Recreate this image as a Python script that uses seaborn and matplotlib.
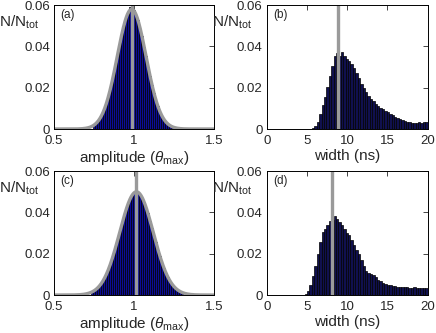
import numpy as np
import pandas as pd
import seaborn as sns
import matplotlib
matplotlib.use("Agg")
import matplotlib.pyplot as plt

# amplitude histograms (bin width 0.0125, bin centres)
amp_bin = 0.0125
amp_a_centres = np.arange(41) * amp_bin + 0.75
amp_a_heights = [0.0019, 0.0027, 0.0038, 0.0052, 0.0071, 0.0090, 0.0121, 0.0149,
                 0.0190, 0.0228, 0.0277, 0.0320, 0.0374, 0.0416, 0.0467, 0.0502,
                 0.0541, 0.0559, 0.0590, 0.0578, 0.0575, 0.0550, 0.0528, 0.0486,
                 0.0449, 0.0398, 0.0354, 0.0300, 0.0258, 0.0211, 0.0175, 0.0136,
                 0.0110, 0.0081, 0.0064, 0.0045, 0.0034, 0.0023, 0.0017, 0.0011,
                 0.0008]
amp_c_centres = np.arange(46) * amp_bin + 0.7375
amp_c_heights = [0.0015, 0.0021, 0.0029, 0.0036, 0.0049, 0.0060, 0.0079, 0.0096,
                 0.0121, 0.0144, 0.0175, 0.0205, 0.0240, 0.0272, 0.0313, 0.0344,
                 0.0383, 0.0411, 0.0443, 0.0463, 0.0485, 0.0493, 0.0502, 0.0496,
                 0.0490, 0.0471, 0.0453, 0.0423, 0.0396, 0.0358, 0.0327, 0.0287,
                 0.0255, 0.0217, 0.0188, 0.0155, 0.0131, 0.0105, 0.0086, 0.0067,
                 0.0054, 0.0040, 0.0032, 0.0022, 0.0018, 0.0012]

# gaussian fits: peak, mean, sigma
fit_a = (0.058, 0.985, 0.090)
fit_c = (0.050, 1.015, 0.105)

# width histograms (bin width 0.3 ns, left edges from 4.4 ns)
wid_bin = 0.3
wid_left = np.arange(53) * wid_bin + 4.4
wid_b_heights = [0, 0, 0, 0.0002, 0.0005, 0.0015, 0.0035, 0.0075, 0.0115, 0.0155,
                 0.0205, 0.0255, 0.0305, 0.0355, 0.0368, 0.0355, 0.0375, 0.0355,
                 0.0340, 0.0330, 0.0315, 0.0295, 0.0270, 0.0245, 0.0220, 0.0200,
                 0.0180, 0.0160, 0.0145, 0.0135, 0.0120, 0.0112, 0.0103, 0.0095,
                 0.0088, 0.0080, 0.0072, 0.0066, 0.0060, 0.0055, 0.0050, 0.0045,
                 0.0040, 0.0036, 0.0032, 0.0030, 0.0028, 0.0030, 0.0033, 0.0030,
                 0.0034, 0.0034, 0.0034]
wid_d_heights = [0, 0.0003, 0.0020, 0.0050, 0.0090, 0.0140, 0.0200, 0.0255, 0.0305,
                 0.0320, 0.0340, 0.0360, 0.0365, 0.0385, 0.0370, 0.0355, 0.0340,
                 0.0320, 0.0300, 0.0290, 0.0265, 0.0240, 0.0220, 0.0200, 0.0170,
                 0.0140, 0.0115, 0.0108, 0.0102, 0.0095, 0.0085, 0.0075, 0.0068,
                 0.0060, 0.0054, 0.0050, 0.0047, 0.0045, 0.0043, 0.0040, 0.0041,
                 0.0038, 0.0037, 0.0038, 0.0036, 0.0035, 0.0037, 0.0035, 0.0036,
                 0.0034, 0.0036, 0.0034, 0.0034]
mean_b = 8.9
mean_d = 8.05

sns.set_style("white")
plt.rcParams['font.family'] = ['Liberation Sans', 'DejaVu Sans']
plt.rcParams['mathtext.fontset'] = 'custom'
plt.rcParams['mathtext.rm'] = 'Liberation Sans'
plt.rcParams['mathtext.it'] = 'Liberation Sans:italic'

gray = '#9a9a9a'
fig = plt.figure(figsize=(4.36, 3.33), dpi=100)
pos = {'a': [0.124, 0.6126, 0.367, 0.372], 'b': [0.612, 0.6126, 0.369, 0.372],
       'c': [0.124, 0.114, 0.367, 0.372], 'd': [0.612, 0.114, 0.369, 0.372]}


def style(ax, tag, xlabel, xticks, xlim):
    ax.set_xlim(*xlim)
    ax.set_ylim(0, 0.06)
    ax.set_xticks(xticks)
    ax.set_xticklabels([f'{t:g}' for t in xticks])
    ax.set_yticks([0, 0.02, 0.04, 0.06])
    ax.set_yticklabels(['0', '0.02', '0.04', '0.06'])
    ax.tick_params(direction='in', top=True, right=True, length=3.5, width=0.6,
                   labelsize=9.5, pad=3)
    ax.tick_params(axis='x', pad=4.5)
    for s in ax.spines.values():
        s.set_color('black')
        s.set_linewidth(0.7)
    ax.set_xlabel(xlabel, fontsize=11, labelpad=1)
    ax.set_ylabel('N/N$_{\\rm tot}$', rotation=0, fontsize=11, ha='right', va='center')
    ax.yaxis.set_label_coords(-0.09, 0.86)
    ax.text(0.04, 0.92, f'({tag})', transform=ax.transAxes, fontsize=8.5, va='center')


def bars(ax, centres, heights, width, color):
    df = pd.DataFrame({'x': centres, 'w': heights})
    lo = centres[0] - width / 2
    hi = centres[-1] + width / 2
    sns.histplot(data=df, x='x', weights='w', binwidth=width, binrange=(lo, hi),
                 ax=ax, color=color, edgecolor='black', linewidth=0.5, alpha=1)


for tag, centres, heights, fit in [('a', amp_a_centres, amp_a_heights, fit_a),
                                   ('c', amp_c_centres, amp_c_heights, fit_c)]:
    ax = fig.add_axes(pos[tag])
    bars(ax, centres, heights, amp_bin, '#0c0c96')
    A, mu, sig = fit
    xs = np.linspace(0.5, 1.5, 400)
    sns.lineplot(x=xs, y=A * np.exp(-(xs - mu) ** 2 / (2 * sig ** 2)), ax=ax,
                 color=gray, linewidth=2.4)
    ax.axvline(mu, color=gray, linewidth=2.4)
    style(ax, tag, 'amplitude ($\\theta_{\\rm max}$)', [0.5, 1, 1.5], (0.5, 1.5))

for tag, heights, mean in [('b', wid_b_heights, mean_b), ('d', wid_d_heights, mean_d)]:
    ax = fig.add_axes(pos[tag])
    bars(ax, wid_left + wid_bin / 2, heights, wid_bin, '#10104e')
    ax.axvline(mean, color=gray, linewidth=2.4)
    style(ax, tag, 'width (ns)', [0, 5, 10, 15, 20], (0, 20))

fig.savefig('out.png', dpi=100)
